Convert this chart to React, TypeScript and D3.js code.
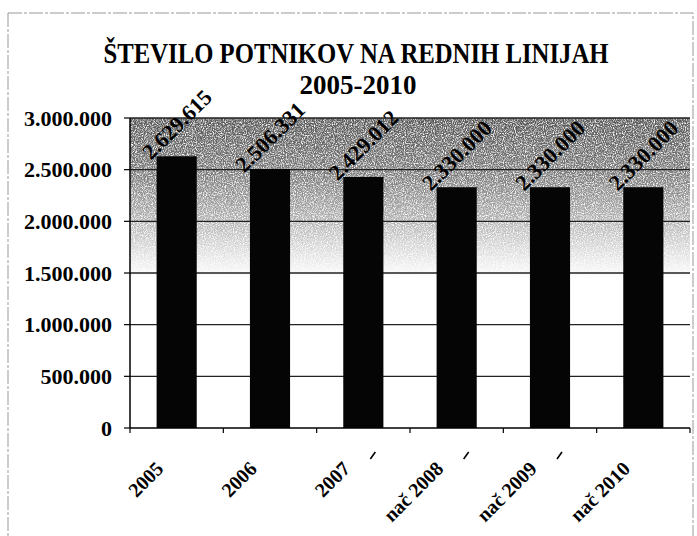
import React from 'react';
import * as d3 from 'd3';

const categories = ['2005', '2006', '2007', 'nač 2008', 'nač 2009', 'nač 2010'];
const passengers = [2629615, 2506331, 2429012, 2330000, 2330000, 2330000];
const yTicks = [0, 500000, 1000000, 1500000, 2000000, 2500000, 3000000];

const width = 697;
const height = 536;
const left = 130;
const right = 690;
const top = 118;
const bottom = 428;

const si = d3.formatLocale({ decimal: ',', thousands: '.', grouping: [3], currency: ['', ''] });
const fmt = si.format(',d');

const serif = '"Liberation Serif", "DejaVu Serif", serif';

const App: React.FC = () => {
  const x = d3.scaleBand<string>()
    .domain(categories)
    .range([left, right])
    .paddingInner(0.57)
    .paddingOuter(0.285);

  const y = d3.scaleLinear().domain([0, 3000000]).range([bottom, top]);

  const bounds = d3.range(categories.length + 1).map(i => left + i * x.step());
  const mid = (c: string) => (x(c) as number) + x.bandwidth() / 2;

  return (
    <svg width={width} height={height} style={{ position: 'absolute', left: 0, top: 0, background: '#fff' }}>
      <defs>
        <linearGradient id="shade" gradientUnits="userSpaceOnUse" x1="0" y1={top} x2="0" y2={bottom}>
          <stop offset="0" stopColor="#000" stopOpacity={0.66} />
          <stop offset="0.18" stopColor="#000" stopOpacity={0.52} />
          <stop offset="0.33" stopColor="#000" stopOpacity={0.3} />
          <stop offset="0.45" stopColor="#000" stopOpacity={0.1} />
          <stop offset="0.52" stopColor="#000" stopOpacity={0} />
        </linearGradient>
        <filter id="grain" x="0" y="0" width="1" height="1">
          <feTurbulence type="fractalNoise" baseFrequency="0.9" numOctaves="2" seed="3" result="noise" />
          <feColorMatrix in="noise" type="matrix"
            values="0 0 0 0 0  0 0 0 0 0  0 0 0 0 0  2.6 0 0 0 -0.55" result="mask" />
          <feComposite in="SourceGraphic" in2="mask" operator="in" />
        </filter>
      </defs>

      {/* outer chart frame */}
      <rect x={8} y={13} width={685} height={540} fill="none" stroke="#999" strokeWidth={1} strokeDasharray="14 2 3 2" />

      {/* title */}
      <text x={356} y={63} textAnchor="middle" fontFamily={serif} fontWeight="bold" fontSize={29}
        textLength={505} lengthAdjust="spacingAndGlyphs">ŠTEVILO POTNIKOV NA REDNIH LINIJAH</text>
      <text x={358} y={94} textAnchor="middle" fontFamily={serif} fontWeight="bold" fontSize={27}>2005-2010</text>

      {/* shaded plot background */}
      <rect x={left} y={top} width={right - left} height={bottom - top} fill="url(#shade)" filter="url(#grain)" />

      {/* gridlines */}
      {yTicks.filter(t => t > 0).map(t => (
        <line key={t} x1={left} x2={right} y1={y(t)} y2={y(t)} stroke="#222" strokeWidth={1.4} />
      ))}

      {/* bars */}
      {categories.map((c, i) => (
        <rect key={c} x={x(c)} y={y(passengers[i])} width={x.bandwidth()} height={bottom - y(passengers[i])} fill="#050505" />
      ))}

      {/* axes */}
      <line x1={left} x2={left} y1={top} y2={bottom} stroke="#000" strokeWidth={1.5} />
      <line x1={left} x2={right} y1={bottom} y2={bottom} stroke="#000" strokeWidth={1.5} />
      {yTicks.map(t => (
        <g key={t}>
          <line x1={left - 6} x2={left} y1={y(t)} y2={y(t)} stroke="#000" strokeWidth={1.2} />
          <text x={112} y={y(t)} dy="0.35em" textAnchor="end" fontFamily={serif} fontWeight="bold" fontSize={22}>{fmt(t)}</text>
        </g>
      ))}
      {bounds.map(b => (
        <line key={b} x1={b} x2={b} y1={bottom} y2={bottom + 5} stroke="#000" strokeWidth={1.2} />
      ))}

      {/* category labels */}
      {categories.map(c => (
        <text key={c} transform={`translate(${mid(c) - 12},${470}) rotate(-45)`} textAnchor="end"
          fontFamily={serif} fontWeight="bold" fontSize={20}>{c}</text>
      ))}
      {/* small scan marks after the labels */}
      {categories.slice(2, 5).map(c => (
        <line key={c} x1={mid(c) + 7} y1={459} x2={mid(c) + 12} y2={452} stroke="#000" strokeWidth={1.6} />
      ))}

      {/* value labels */}
      {categories.map((c, i) => (
        <text key={c} transform={`translate(${mid(c)},${y(passengers[i]) - 32}) rotate(-45)`} textAnchor="middle" dy="0.35em"
          fontFamily={serif} fontWeight="bold" fontSize={22} fill="#000">{fmt(passengers[i])}</text>
      ))}
    </svg>
  );
};

export default App;
